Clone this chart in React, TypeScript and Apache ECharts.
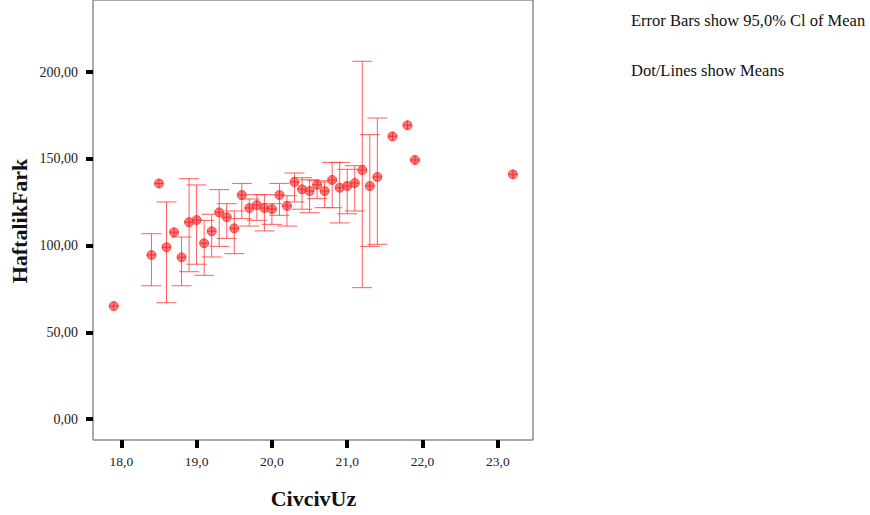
import React, { useEffect, useRef } from "react";
import * as echarts from "echarts";

const civcivUz = [17.9, 18.4, 18.5, 18.6, 18.7, 18.8, 18.9, 19.0, 19.1, 19.2, 19.3, 19.4, 19.5, 19.6, 19.7, 19.8, 19.9, 20.0, 20.1, 20.2, 20.3, 20.4, 20.5, 20.6, 20.7, 20.8, 20.9, 21.0, 21.1, 21.2, 21.3, 21.4, 21.6, 21.8, 21.9, 23.2];
const means = [65.1, 94.5, 135.8, 99.0, 107.6, 93.2, 113.4, 114.7, 101.3, 108.2, 119.1, 116.3, 109.9, 129.1, 121.6, 123.3, 121.6, 121.0, 129.1, 122.8, 136.6, 132.4, 131.4, 135.0, 131.4, 137.8, 133.3, 134.3, 136.0, 143.5, 134.3, 139.5, 162.9, 169.3, 149.3, 141.0];
const lowerCI: (number | null)[] = [null, 76.8, null, 67.0, null, 76.8, 84.9, 89.2, 82.8, 93.4, 99.5, 104.1, 95.3, 115.5, 111.2, 114.5, 108.4, 112.2, 117.4, 111.2, 125.1, 120.9, 118.9, 127.0, 121.8, 121.8, 113.0, 118.3, 119.9, 75.7, 99.5, 100.7, null, null, null, null];
const upperCI: (number | null)[] = [null, 106.8, null, 125.1, null, 104.9, 138.5, 134.9, 114.5, 118.0, 132.2, 124.1, 119.9, 135.8, 126.8, 129.3, 129.3, 124.1, 135.8, 128.7, 141.8, 139.1, 137.9, 137.3, 136.6, 147.9, 147.9, 143.9, 146.0, 206.2, 163.9, 173.5, null, null, null, null];
const xTicks = [18, 19, 20, 21, 22, 23];
const yTicks = [0, 50, 100, 150, 200];
const noteLines = ["Error Bars show 95,0% Cl of Mean", "Dot/Lines show Means"];

const FONT = "'Liberation Serif', 'Times New Roman', serif";
const RED = "#ff4a4a";

export default function App() {
  const ref = useRef<HTMLDivElement>(null);
  useEffect(() => {
    if (!ref.current) return;
    const chart = echarts.init(ref.current, null, { renderer: "svg" });
    const barData = civcivUz
      .map((x, i) => [x, lowerCI[i], upperCI[i]])
      .filter((d) => d[1] != null && d[2] != null);
    const pointData = civcivUz.map((x, i) => [x, means[i]]);
    chart.setOption({
      animation: false,
      backgroundColor: "#ffffff",
      grid: {
        left: 93,
        top: 0,
        right: 337,
        bottom: 75,
        show: true,
        borderColor: "#555555",
        borderWidth: 1,
        backgroundColor: "transparent",
      },
      xAxis: {
        type: "value",
        min: 17.624,
        max: 23.467,
        splitLine: { show: false },
        axisLine: { show: false, onZero: false },
        axisTick: {
          show: true,
          length: 8,
          customValues: xTicks,
          lineStyle: { color: "#000", width: 4 },
        },
        axisLabel: {
          customValues: xTicks,
          margin: 14,
          fontFamily: FONT,
          fontSize: 13.5,
          color: "#222",
          formatter: (v: number) => v.toFixed(1).replace(".", ","),
        },
      },
      yAxis: {
        type: "value",
        min: -12.1,
        max: 241.5,
        splitLine: { show: false },
        axisLine: { show: true, onZero: false, lineStyle: { color: "#aaaaaa", width: 1 } },
        axisTick: {
          show: true,
          length: 7,
          customValues: yTicks,
          lineStyle: { color: "#000", width: 4 },
        },
        axisLabel: {
          customValues: yTicks,
          margin: 15,
          fontFamily: FONT,
          fontSize: 14,
          color: "#222",
          formatter: (v: number) => v.toFixed(2).replace(".", ","),
        },
      },
      series: [
        {
          type: "custom",
          data: barData,
          renderItem: (params: any, api: any) => {
            const x = api.value(0);
            const lo = api.coord([x, api.value(1)]);
            const hi = api.coord([x, api.value(2)]);
            const hw = 10;
            const style = { stroke: RED, lineWidth: 1, opacity: 0.9 };
            return {
              type: "group",
              children: [
                { type: "line", shape: { x1: lo[0], y1: lo[1], x2: hi[0], y2: hi[1] }, style },
                { type: "line", shape: { x1: hi[0] - hw, y1: hi[1], x2: hi[0] + hw, y2: hi[1] }, style },
                { type: "line", shape: { x1: lo[0] - hw, y1: lo[1], x2: lo[0] + hw, y2: lo[1] }, style },
              ],
            };
          },
          z: 2,
        },
        {
          type: "scatter",
          data: pointData,
          symbol: "circle",
          symbolSize: 9,
          itemStyle: { color: "#ff5858", borderColor: "#ff3030", borderWidth: 1 },
          z: 3,
        },
        {
          type: "scatter",
          data: pointData,
          symbol: "path://M4 0h1v9h-1z M0 4h9v1h-9z",
          symbolSize: 9,
          itemStyle: { color: "#e82020" },
          z: 4,
        },
      ],
      graphic: [
        {
          type: "text",
          x: 19,
          y: 221,
          rotation: Math.PI / 2,
          style: {
            text: "HaftalikFark",
            fontFamily: FONT,
            fontWeight: "bold",
            fontSize: 22,
            fill: "#111",
            align: "center",
            verticalAlign: "middle",
          },
        },
        {
          type: "text",
          x: 313.5,
          y: 498,
          style: {
            text: "CivcivUz",
            fontFamily: FONT,
            fontWeight: "bold",
            fontSize: 22,
            fill: "#111",
            align: "center",
            verticalAlign: "middle",
          },
        },
        ...noteLines.map((t, i) => ({
          type: "text",
          x: 631,
          y: i === 0 ? 20 : 70,
          style: {
            text: t,
            fontFamily: FONT,
            fontSize: 16.5,
            fill: "#111",
            align: "left",
            verticalAlign: "middle",
          },
        })),
      ],
    });
    return () => chart.dispose();
  }, []);
  return (
    <div
      ref={ref}
      style={{ position: "fixed", left: 0, top: 0, width: 870, height: 515, background: "#fff" }}
    />
  );
}
